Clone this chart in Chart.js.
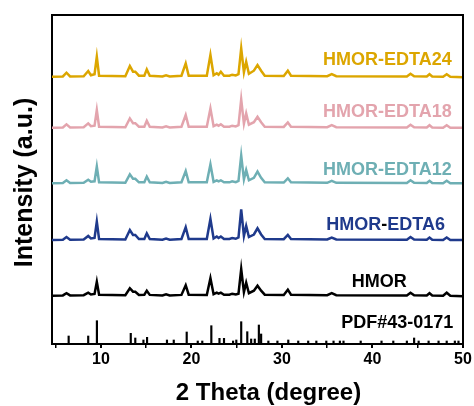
<!DOCTYPE html>
<html>
<head>
<meta charset="utf-8">
<script src="https://cdn.jsdelivr.net/npm/chart.js@4.4.1/dist/chart.umd.min.js"></script>
<style>
    html, body { margin: 0; padding: 0; background: #fff; }
    #wrap { width: 474px; height: 406px; }
</style>
</head>
<body>
<div id="wrap"><canvas id="xrdChart" width="474" height="406"></canvas></div>
<script>
// 2 theta sample points shared by all measured patterns
const twoTheta = [4.6, 5.8, 6.2, 6.6, 8.1, 8.6, 8.9, 9.3, 9.55, 9.8, 12.7, 13.2, 13.55, 13.8, 14.2, 14.8, 15.07, 15.4, 16.8, 17.2,
    17.6, 18.9, 19.37, 19.7, 21.7, 22.1, 22.45, 22.8, 23.0, 23.25, 23.6, 24.2, 24.5, 24.9, 25.2, 25.5, 25.8, 26.05, 26.35, 26.9,
    27.3, 27.7, 28.1, 30.2, 30.65, 31.0, 35.0, 35.5, 36.0, 43.8, 44.2, 44.6, 46.0, 46.3, 46.6, 47.8, 48.2, 48.6, 50.0];

// intensities (a.u.), relative to each pattern's own baseline
const hmor = [0, 0.3, 2.5, 0.3, 0.5, 3, 1.2, 1.8, 14, 1, 0.5, 7.5, 4, 4, 0.8, 1, 5, 0.8, 0.3, 1.5,
    0.3, 0.8, 10.5, 1, 0.8, 17.5, 1.5, 3, 2, 3, 1, 1, 2, 1.2, 2, 26.7, 3.5, 13, 2.5, 5,
    10, 5, 1, 0.8, 6, 1, 0.5, 2.5, 0.5, 0.3, 3, 0.5, 0.3, 2.5, 0.3, 0, 3, 0, -0.5];
const edta6 = [0, 0.3, 3, 0.3, 0.5, 4, 1.5, 2, 18.3, 1, 0.5, 10, 5, 5, 1, 1, 6.7, 1, 0.3, 1.5,
    0.3, 1, 12.7, 1, 1, 21, 1.5, 3.5, 2, 3.5, 1, 1, 2, 1.2, 2.5, 30.7, 4, 14, 3, 5.5,
    11.7, 5.5, 1, 0.8, 5, 1, 0.5, 2.5, 0.5, 0.3, 3, 0.5, 0.3, 2.5, 0.3, 0, 2.5, 0, 0];
const edta12 = [0, 0.3, 3, 0.3, 0.5, 3.5, 1.5, 2, 16.7, 1, 0.5, 9, 4.5, 4.5, 1, 1, 6.7, 1, 0.3, 1.5,
    0.3, 1, 12.3, 1, 1, 19, 1.5, 3, 2, 3, 1, 1, 2, 1.2, 2.5, 27.7, 4, 13.3, 3, 5.5,
    11.7, 5.5, 1, 0.8, 5, 1, 0.5, 2.5, 0.5, 0.3, 3, 0.5, 0.3, 2.5, 0.3, 0, 2.5, 0, 0];
const edta18 = [0, 0.3, 3.3, 0.3, 0.5, 4.3, 1.5, 2, 17.7, 1, 0.5, 9.3, 4.5, 4.5, 1, 1, 7, 1, 0.3, 1.5,
    0.3, 1, 12.7, 1, 1, 19.3, 1.5, 3, 2, 3.5, 1, 1, 2, 1.2, 2.5, 28.3, 4, 14.3, 3, 5.5,
    11, 5.5, 1, 0.8, 5.3, 1, 0.5, 2.5, 0.5, 0.3, 3, 0.5, 0.3, 2.5, 0.3, 0, 2.5, 0, 0];
const edta24 = [0, 0.3, 4, 0.3, 0.5, 5.7, 1.5, 2.5, 20, 1, 0.5, 10.7, 5, 5, 1, 1, 7.3, 1, 0.3, 1.5,
    0.3, 1, 13.3, 1, 1, 21.7, 1.5, 3.5, 2, 5, 1, 1, 2, 1.2, 2.5, 28.3, 4.5, 15, 3, 6,
    11.7, 6, 1, 0.8, 6, 1, 0.5, 2.5, 0.5, 0.3, 3, 0.5, 0.3, 2.5, 0.3, 0, 2.5, 0, -0.5];

// vertical stacking offset of each pattern (a.u.)
const seriesNames = ['HMOR', 'HMOR-EDTA6', 'HMOR-EDTA12', 'HMOR-EDTA18', 'HMOR-EDTA24'];
const seriesOffsets = [48.3, 104, 160.7, 216.3, 267.3];

// reference card PDF#43-0171 stick pattern
const stickPos = [6.44, 8.6, 9.56, 13.3, 13.8, 14.7, 15.1, 17.3, 18.05, 19.48, 20.7, 21.2, 22.2, 23.1, 23.6, 24.6, 24.96,
    25.5, 26.17, 26.6, 27.0, 27.45, 27.7, 28.5, 29.5, 30.7, 31.8, 32.9, 33.8, 34.9, 35.7, 36.4, 36.8, 38.7, 41.0,
    42.3, 43.8, 44.6, 45.1, 46.2, 47.3, 48.2, 49.1, 49.5];
const stickInt = [8, 8, 23.3, 10.7, 6, 4, 6.7, 4, 4, 12, 3, 3, 18.3, 5.7, 5.7, 3, 4,
    22.3, 12.3, 5, 5, 19, 10, 3, 3, 4, 3, 3, 3, 3, 3, 3, 3, 3, 3,
    3, 3, 6, 3, 3, 3, 3, 3, 3];

const xTicks = [5, 10, 15, 20, 25, 30, 35, 40, 45, 50];

const FONT = "'Liberation Sans', Arial, sans-serif";
const colors = ['#000000', '#1f3a8c', '#6eafb4', '#e3a4ad', '#dca600'];

// text labels next to the patterns: right edge x (degree), centre y (a.u.)
const labelSpots = [
    { parts: [['PDF#43-0171', '#000000']], x: 48.93, y: 20.7 },
    { parts: [['HMOR', '#000000']], x: 43.78, y: 62.3 },
    { parts: [['HMOR', colors[1]], ['-', '#000000'], ['EDTA6', colors[1]]], x: 48.01, y: 119 },
    { parts: [['HMOR-EDTA12', colors[2]]], x: 48.75, y: 174 },
    { parts: [['HMOR-EDTA18', colors[3]]], x: 48.75, y: 232.3 },
    { parts: [['HMOR-EDTA24', colors[4]]], x: 48.75, y: 284 }
];

const seriesData = [hmor, edta6, edta12, edta18, edta24];

const datasets = seriesData.map((vals, i) => ({
    type: 'line',
    label: seriesNames[i],
    data: twoTheta.map((x, j) => ({ x: x, y: vals[j] + seriesOffsets[i] })),
    borderColor: colors[i],
    borderWidth: 2.5,
    pointRadius: 0,
    tension: 0,
    fill: false
}));

datasets.push({
    type: 'bar',
    label: 'PDF#43-0171',
    data: stickPos.map((x, j) => ({ x: x, y: stickInt[j] })),
    backgroundColor: '#000000',
    borderWidth: 0,
    barThickness: 1.5
});

// top and right edges of the frame, plus the two axis titles
const framePlugin = {
    id: 'frame',
    afterDraw(chart) {
        const { ctx, chartArea: a } = chart;
        ctx.save();
        ctx.strokeStyle = '#000';
        ctx.lineWidth = 2;
        ctx.beginPath();
        ctx.moveTo(a.left - 1, a.top);
        ctx.lineTo(a.right, a.top);
        ctx.lineTo(a.right, a.bottom + 1);
        ctx.stroke();

        ctx.fillStyle = '#000';
        ctx.textAlign = 'center';
        ctx.textBaseline = 'middle';
        ctx.font = 'bold 24px ' + FONT;
        ctx.fillText('2 Theta (degree)', 268.5, 393);

        ctx.translate(25, 182.5);
        ctx.rotate(-Math.PI / 2);
        ctx.font = 'bold 25px ' + FONT;
        ctx.fillText('Intensity (a.u.)', 0, 0);
        ctx.restore();
    }
};

// sample names drawn in the plot
const namePlugin = {
    id: 'names',
    afterDatasetsDraw(chart) {
        const { ctx, scales } = chart;
        ctx.save();
        ctx.font = 'bold 18px ' + FONT;
        ctx.textBaseline = 'middle';
        ctx.textAlign = 'left';
        labelSpots.forEach(spot => {
            const total = spot.parts.reduce((w, p) => w + ctx.measureText(p[0]).width, 0);
            let px = scales.x.getPixelForValue(spot.x) - total;
            const py = scales.y.getPixelForValue(spot.y);
            spot.parts.forEach(p => {
                ctx.fillStyle = p[1];
                ctx.fillText(p[0], px, py);
                px += ctx.measureText(p[0]).width;
            });
        });
        ctx.restore();
    }
};

new Chart(document.getElementById('xrdChart'), {
    type: 'line',
    data: { datasets: datasets },
    options: {
        responsive: false,
        animation: false,
        devicePixelRatio: 1,
        layout: { padding: { top: 15, right: 11, left: 0, bottom: 0 } },
        plugins: {
            legend: { display: false },
            tooltip: { enabled: false }
        },
        scales: {
            x: {
                type: 'linear',
                offset: false,
                min: 4.6,
                max: 50,
                afterBuildTicks: scale => { scale.ticks = xTicks.map(v => ({ value: v })); },
                afterFit: scale => { scale.height = 62; },
                ticks: {
                    autoSkip: false,
                    maxRotation: 0,
                    padding: 2,
                    color: '#000',
                    font: { family: FONT, size: 16, weight: 'bold' },
                    callback: v => (v % 10 === 0 ? v : '')
                },
                grid: {
                    display: true,
                    offset: false,
                    drawOnChartArea: false,
                    drawTicks: true,
                    tickLength: 4,
                    color: '#000',
                    lineWidth: ctx => (ctx.tick && ctx.tick.value % 10 === 0 ? 2 : 1.5)
                },
                border: { display: true, color: '#000', width: 2 },
                title: { display: false }
            },
            y: {
                min: 0,
                max: 329,
                afterFit: scale => { scale.width = 52; },
                ticks: { display: false },
                grid: { display: false },
                border: { display: true, color: '#000', width: 2 },
                title: { display: false }
            }
        }
    },
    plugins: [framePlugin, namePlugin]
});
</script>
</body>
</html>
